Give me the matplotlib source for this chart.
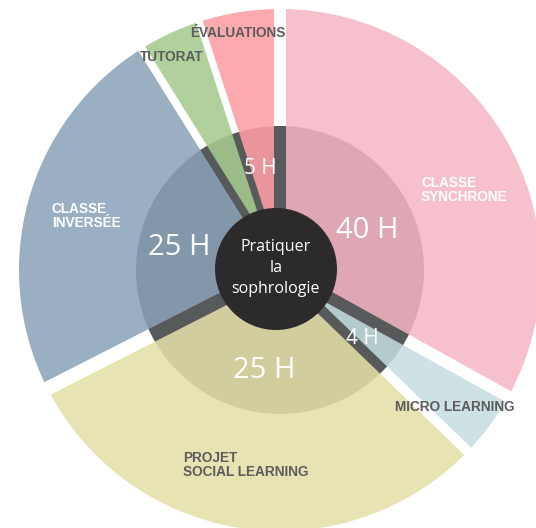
import numpy as np
import matplotlib
matplotlib.use("Agg")
import matplotlib.pyplot as plt
from matplotlib.patches import Circle

# ---- data ----
categories = ["CLASSE\nSYNCHRONE", "ÉVALUATIONS", "TUTORAT", "CLASSE\nINVERSÉE",
              "PROJET\nSOCIAL LEARNING", "MICRO LEARNING"]
sector_share = [119, 18, 14, 85, 109, 15]          # angular share of each sector
hours = [40, 5, None, 25, 25, 4]
hour_labels = [f"{h} H" if h is not None else "" for h in hours]
center_label = "Pratiquer\nla\nsophrologie"

# ---- style ----
outer_colors = ["#f7c0cd", "#fcaab0", "#b0d19b", "#9aafc2", "#e8e3b3", "#cee1e4"]
inner_colors = ["#dfa6b3", "#e9959b", "#9cbc87", "#8397ab", "#d1cd9d", "#b5cacd"]
sep_dark = "#58595b"
center_color = "#2c2a2b"
label_gray = "#5c5c5c"
W, H = 536, 528
cx, cy = 280, H - 270
R_out, R_in, R_core = 261, 144, 61
start_angle = -29
# gap width (px) after each sector (counter-clockwise boundary)
gap_px = [12, 7, 8, 14, 10, 12]
hour_sizes = [21, 15, 15, 21, 21, 15]
# hour-label placement: angle offset from sector middle (deg) and radius (px)
hour_dang = [-4.7, 1.4, 0, 1.5, -0.8, -1.9]
hour_rad = [97, 106, 100, 104, 99, 105]

fig = plt.figure(figsize=(W / 100, H / 100), dpi=100)
ax = fig.add_axes([0, 0, 1, 1])

ax.pie(sector_share, colors=outer_colors, startangle=start_angle, counterclock=True,
       center=(cx, cy), radius=R_out, frame=True, wedgeprops=dict(linewidth=0))

# boundaries from data
shares = np.array(sector_share, dtype=float)
edges = start_angle + np.concatenate([[0], np.cumsum(shares / shares.sum() * 360)])
mids = (edges[:-1] + edges[1:]) / 2
ends = edges[1:]

# white gaps
for a, g in zip(ends, gap_px):
    t = np.deg2rad(a)
    ax.plot([cx, cx + 300 * np.cos(t)], [cy, cy + 300 * np.sin(t)], color="white",
            lw=g * 0.72, solid_capstyle="butt", zorder=3)

ax.pie(sector_share, colors=inner_colors, startangle=start_angle, counterclock=True,
       center=(cx, cy), radius=R_in, frame=True, wedgeprops=dict(linewidth=0))
for p in ax.patches[len(sector_share):]:
    p.set_zorder(4)

# dark separators inside ring
for a, g in zip(ends, gap_px):
    t = np.deg2rad(a)
    ax.plot([cx, cx + R_in * np.cos(t)], [cy, cy + R_in * np.sin(t)], color=sep_dark,
            lw=g * 0.72, solid_capstyle="butt", zorder=5)

ax.add_patch(Circle((cx - 4, cy + 1), R_core, color=center_color, zorder=6, lw=0))

num_font = ["Open Sans", "DejaVu Sans"]
for m, lab, fs, da, rr in zip(mids, hour_labels, hour_sizes, hour_dang, hour_rad):
    t = np.deg2rad(m + da)
    ax.text(cx + rr * np.cos(t), cy + rr * np.sin(t) - 3, lab, color="white",
            fontsize=fs, family=num_font, weight="normal", ha="center", va="center", zorder=7)

ax.text(cx - 4, cy + 2, center_label, color="white", fontsize=11.5, family=num_font,
        ha="center", va="center", linespacing=1.45, zorder=7)

cat_font = ["Liberation Sans", "DejaVu Sans"]
# (x, y, color) for each category label, pixel coordinates
cat_pos = [(421, 190, "white"), (190, 33, label_gray), (140, 57, label_gray),
           (52, 216, "white"), (183, 465, label_gray), (395, 407, label_gray)]
for lab, (x, y, c) in zip(categories, cat_pos):
    ax.text(x, H - y, lab, color=c, fontsize=9.8, family=cat_font, weight="bold",
            ha="left", va="center", linespacing=1.0, zorder=8)

ax.set_xlim(0, W)
ax.set_ylim(0, H)
ax.set_aspect("auto")
ax.axis("off")
fig.savefig("out.png", dpi=100, facecolor="white")
